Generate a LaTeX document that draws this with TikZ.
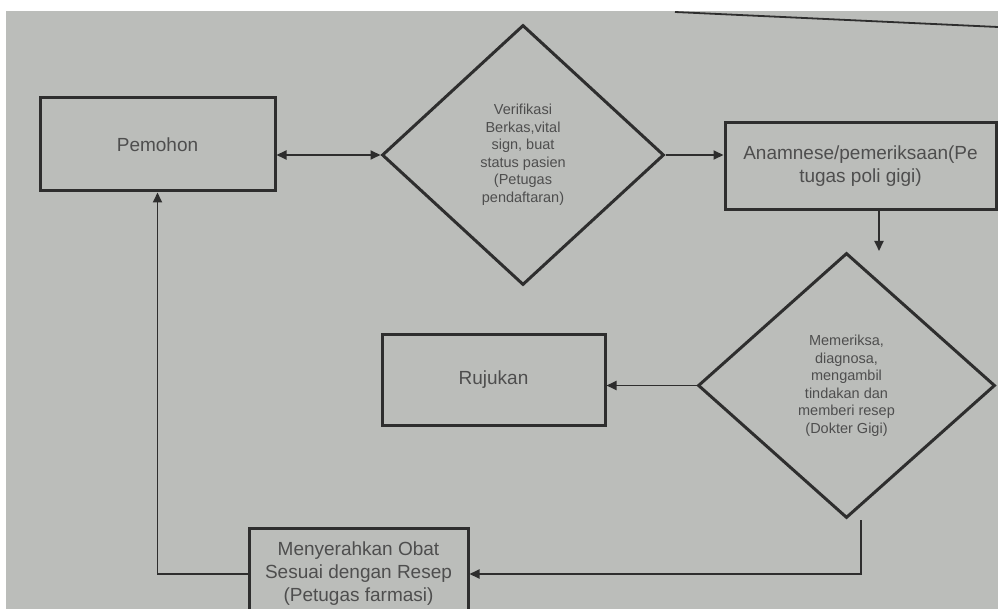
\documentclass[tikz,border=0pt]{standalone}
\usepackage{fontspec}
\setmainfont{Liberation Sans}
\usetikzlibrary{shapes.geometric,arrows.meta,calc}
\definecolor{paper}{HTML}{BBBDBA}
\definecolor{ink}{HTML}{2E2E2E}
\definecolor{txt}{HTML}{4E4E4E}
\tikzset{
  box/.style={draw=ink, line width=3pt, fill=paper, inner sep=0pt, align=center,
    text=txt, font=\fontsize{19}{23}\selectfont},
  dia/.style={diamond, draw=ink, line width=3pt, fill=paper, inner sep=0pt, align=center,
    text=txt, font=\fontsize{14.5}{17.5}\selectfont},
  conn/.style={draw=ink, line width=1.8pt, -{Triangle[length=10pt,width=9pt]}},
}
\begin{document}
\begin{tikzpicture}[x=1pt,y=-1pt]
\useasboundingbox (0,0) rectangle (998,609);
\clip (0,0) rectangle (998,609);
\fill[white] (0,0) rectangle (998,609);
\fill[paper] (6,11) rectangle (998,609);
\draw[ink, line width=1.8pt] (675,12) -- (998,27);

\node[box, minimum width=235pt, minimum height=93pt] (pem) at (157.5,144.5) {Pemohon};
\node[dia, minimum width=282pt, minimum height=260pt] (d1) at (523,155)
  {Verifikasi\\Berkas,vital\\sign, buat\\status pasien\\(Petugas\\pendaftaran)};
\node[box, minimum width=271pt, minimum height=87pt] (ana) at (860.5,166.5)
  {Anamnese/pemeriksaan(Pe\\tugas poli gigi)};
\node[dia, minimum width=297pt, minimum height=265pt] (d2) at (846.5,385.5)
  {Memeriksa,\\diagnosa,\\mengambil\\tindakan dan\\memberi resep\\(Dokter Gigi)};
\node[box, minimum width=223pt, minimum height=90pt] (ruj) at (493.5,380) {Rujukan};
\node[box, minimum width=219pt, minimum height=92pt] (obat) at (358.5,574)
  {Menyerahkan Obat\\Sesuai dengan Resep\\(Petugas farmasi)};

\coordinate (d2in) at (879,251);
\coordinate (d2out) at (861,520);

\draw[conn, {Triangle[length=10pt,width=9pt]}-{Triangle[length=10pt,width=9pt]}]
  (pem.east |- d1.west) -- (d1.west);
\draw[conn] (d1.east) -- (d1.east -| ana.west);
\draw[conn] (ana.south -| d2in) -- (d2in);
\draw[conn] (d2.west) -- (d2.west -| ruj.east);
\draw[conn] (d2out) |- (obat.east);
\draw[conn] (obat.west) -| (pem.south);
\end{tikzpicture}
\end{document}
